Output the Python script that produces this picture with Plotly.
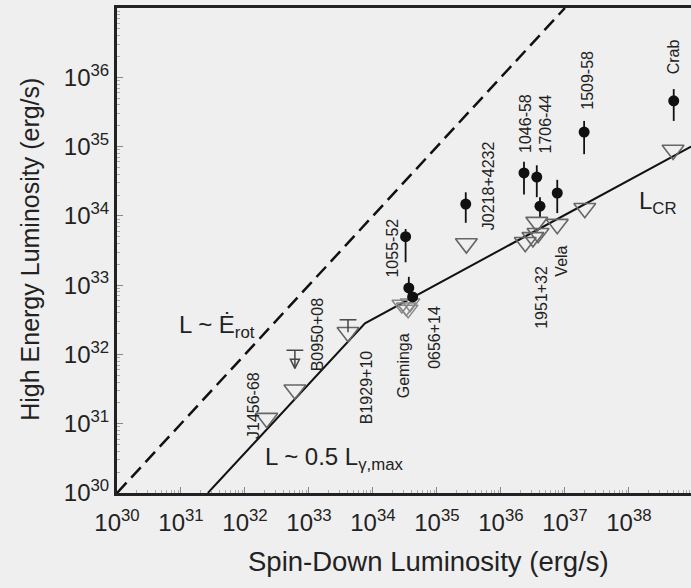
import plotly.graph_objects as go

# ---- data (log10 values) ----
# detected pulsars (filled circles with error bars)
det_x = [34.51, 34.56, 34.62, 35.45, 36.36, 36.56, 36.61, 36.88, 37.30, 38.70]
det_y = [33.70, 32.96, 32.83, 34.17, 34.62, 34.56, 34.14, 34.33, 35.21, 35.66]
det_hi = [33.81, 33.12, 32.83, 34.34, 34.78, 34.73, 34.27, 34.52, 35.37, 35.83]
det_lo = [33.33, 32.78, 32.83, 33.90, 34.31, 34.27, 33.98, 34.04, 34.89, 35.37]

# predicted values (open triangles)
tri_x = [32.34, 32.78, 33.61, 35.46, 36.38, 36.56, 36.58, 36.50, 36.88, 37.31, 38.69]
tri_y = [31.08, 31.49, 32.32, 33.60, 33.62, 33.91, 33.75, 33.69, 33.88, 34.11, 34.95]
gem_x = [34.45, 34.52, 34.58, 34.55]
gem_y = [32.72, 32.68, 32.74, 32.65]

# limits
ul_x, ul_top, ul_tip = 32.78, 32.06, 31.80      # B0950+08 upper limit arrow
b19_x, b19_y, b19_top = 33.61, 32.32, 32.50     # B1929+10 error bar

# model lines
erot_x = [30, 37]
erot_y = [30, 37]
model_x = [31.42, 33.875, 38.97]
model_y = [30.0, 32.45, 35.0]

# pulsar labels
lab_text = ["1055-52", "0656+14", "Geminga", "B1929+10", "B0950+08", "J1456-68",
            "J0218+4232", "1046-58", "1706-44", "1951+32", "Vela", "1509-58", "Crab"]
lab_x = [34.31, 34.97, 34.47, 33.91, 33.125, 32.125, 35.80, 36.375, 36.69, 36.64, 36.95, 37.34, 38.69]
lab_y = [33.54, 32.24, 31.83, 31.53, 32.29, 31.27, 34.43, 35.34, 35.32, 32.83, 33.35, 35.96, 36.29]

dec = list(range(30, 39))
xtick_text = [f"10<sup>{d}</sup>" for d in dec]
ydec = list(range(30, 37))
ytick_text = [f"10<sup>{d}</sup>" for d in ydec]

x_title = "Spin-Down Luminosity (erg/s)"
y_title = "High Energy Luminosity (erg/s)"


def p(v):
    return [10.0 ** float(a) for a in v]


FONT = "Liberation Sans"
INK = "#222"

fig = go.Figure()
fig.add_trace(go.Scatter(x=p(erot_x), y=p(erot_y), mode="lines",
                         line=dict(color="#111", width=2.5, dash="14px,7px")))
fig.add_trace(go.Scatter(x=p(model_x), y=p(model_y), mode="lines",
                         line=dict(color="#111", width=2)))

# error bars for detections
ex, ey = [], []
for x, hi, lo in zip(det_x, det_hi, det_lo):
    ex += [10.0 ** x, 10.0 ** x, None]
    ey += [10.0 ** lo, 10.0 ** hi, None]
fig.add_trace(go.Scatter(x=ex, y=ey, mode="lines", line=dict(color="#111", width=1.8)))

# triangles
fig.add_trace(go.Scatter(x=p(gem_x), y=p(gem_y), mode="markers",
                         marker=dict(symbol="triangle-down-open", size=17,
                                     line=dict(color="#888", width=1.5), color="#888")))
fig.add_trace(go.Scatter(x=p(tri_x), y=p(tri_y), mode="markers",
                         marker=dict(symbol="triangle-down-open", size=19,
                                     line=dict(color="#666", width=1.6), color="#666")))
# detections
fig.add_trace(go.Scatter(x=p(det_x), y=p(det_y), mode="markers",
                         marker=dict(symbol="circle", size=11, color="#111")))

# B1929+10 error bar with cap
fig.add_trace(go.Scatter(x=p([b19_x, b19_x]), y=p([b19_y, b19_top]), mode="lines",
                         line=dict(color="#444", width=1.5)))
fig.add_trace(go.Scatter(x=p([b19_x]), y=p([b19_top]), mode="markers",
                         marker=dict(symbol="line-ew-open", size=12, color="#444",
                                     line=dict(color="#444", width=1.5))))
# B0950+08 upper limit: cap, shaft and arrow head
fig.add_trace(go.Scatter(x=p([ul_x]), y=p([ul_top]), mode="markers",
                         marker=dict(symbol="line-ew-open", size=12, color="#444",
                                     line=dict(color="#444", width=1.5))))
fig.add_trace(go.Scatter(x=p([ul_x, ul_x]), y=p([ul_top, ul_tip]), mode="lines",
                         line=dict(color="#444", width=1.5)))
fig.add_trace(go.Scatter(x=p([ul_x]), y=p([ul_tip]), mode="markers",
                         marker=dict(symbol="arrow-down-open", size=9, color="#444",
                                     line=dict(color="#444", width=1.5))))

for t, x, y in zip(lab_text, lab_x, lab_y):
    fig.add_annotation(x=x, y=y, text=t, showarrow=False, textangle=-90,
                       font=dict(size=16, color=INK, family=FONT))

fig.add_annotation(x=30.94, y=32.40, text="L ~ \u0116<sub>rot</sub>", showarrow=False,
                   xanchor="left", font=dict(size=24, color=INK, family=FONT))
fig.add_annotation(x=32.28, y=30.5, text="L ~ 0.5 L<sub>\u03b3,max</sub>", showarrow=False,
                   xanchor="left", font=dict(size=24, color=INK, family=FONT))
fig.add_annotation(x=38.125, y=34.2, text="L<sub>CR</sub>", showarrow=False,
                   xanchor="left", font=dict(size=24, color=INK, family=FONT))

# axis titles
fig.add_annotation(x=0.542, y=-0.142, xref="paper", yref="paper", text=x_title,
                   showarrow=False, xanchor="center", yanchor="middle",
                   font=dict(size=27.5, color=INK, family=FONT))
fig.add_annotation(x=-0.152, y=0.503, xref="paper", yref="paper", text=y_title,
                   showarrow=False, textangle=-90, xanchor="center", yanchor="middle",
                   font=dict(size=25, color=INK, family=FONT))

fig.update_layout(
    width=691, height=588, showlegend=False,
    margin=dict(l=117, r=0, t=8, b=95),
    paper_bgcolor="#efefef", plot_bgcolor="#efefef",
    font=dict(family=FONT, color=INK),
    xaxis=dict(type="log", range=[30, 38.97], tickvals=p(dec), ticktext=xtick_text,
               tickfont=dict(size=24), showgrid=False, zeroline=False,
               showline=True, linewidth=3, linecolor="#222", mirror=True,
               ticks="inside", ticklen=6, tickcolor="#888", ticklabelstandoff=6,
               minor=dict(ticks="inside", ticklen=3, tickcolor="#aaa", dtick="D1", showgrid=False)),
    yaxis=dict(type="log", range=[30, 37.0], tickvals=p(ydec), ticktext=ytick_text,
               tickfont=dict(size=24), showgrid=False, zeroline=False,
               showline=True, linewidth=3, linecolor="#222", mirror=False,
               ticks="inside", ticklen=6, tickcolor="#888",
               minor=dict(ticks="inside", ticklen=3, tickcolor="#aaa", dtick="D1", showgrid=False)),
)

fig.write_html("out.html")
